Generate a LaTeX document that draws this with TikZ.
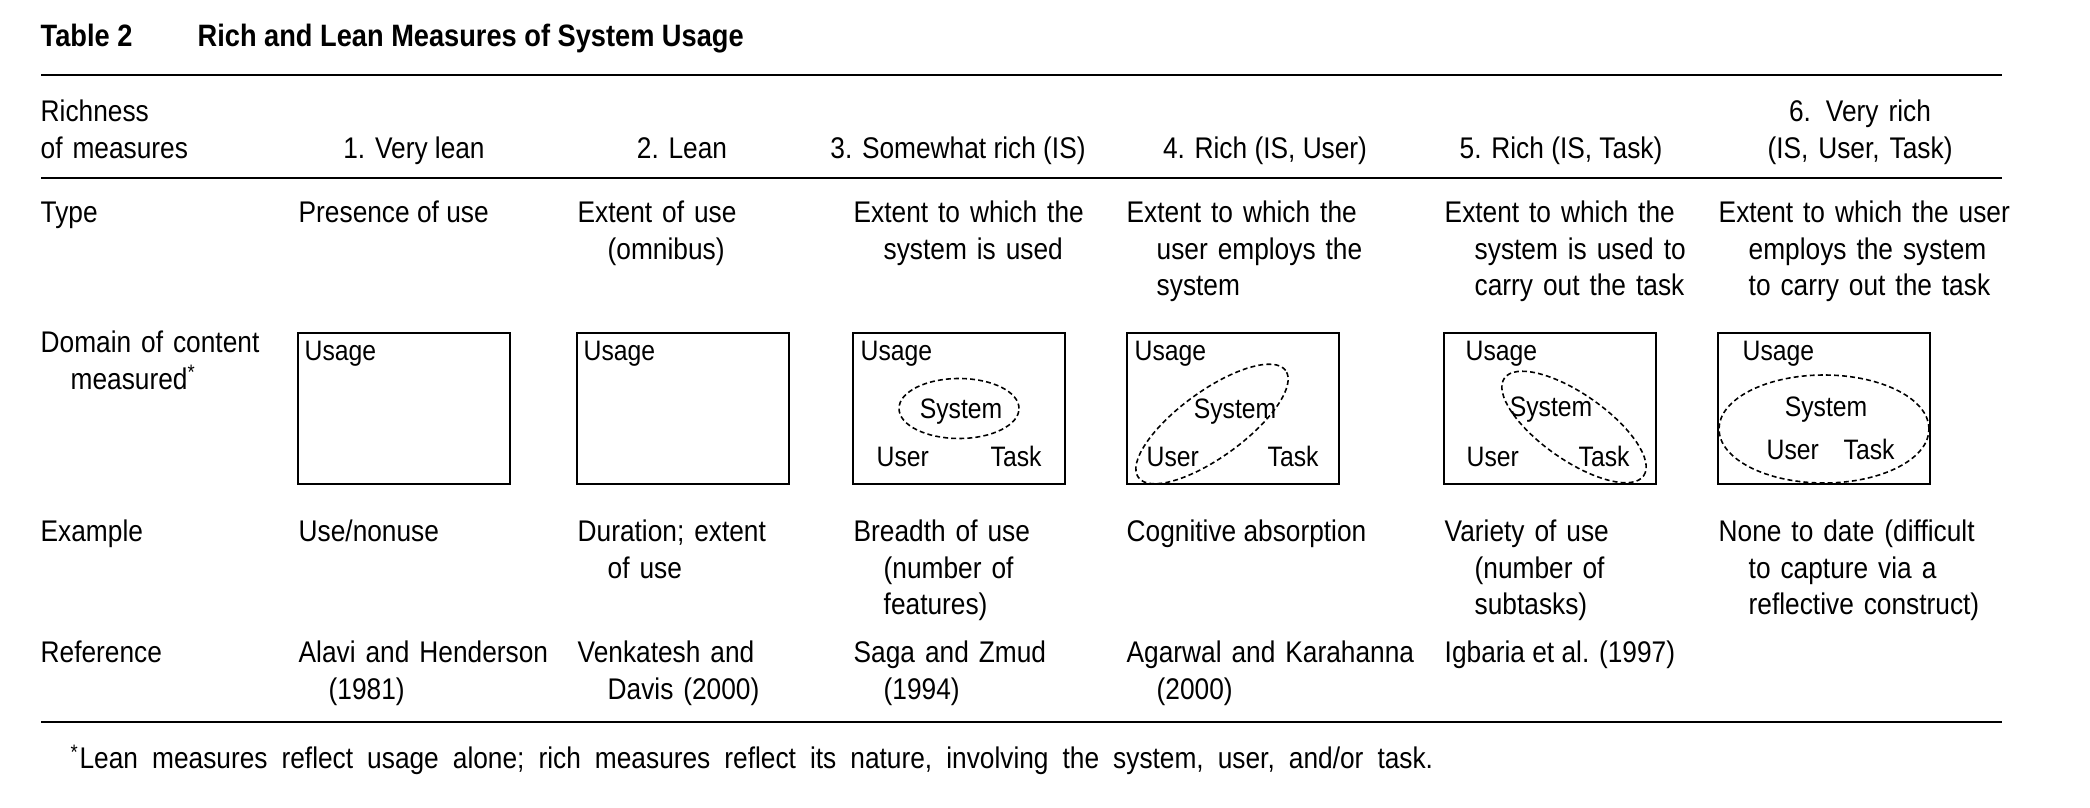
\documentclass[tikz,border=0pt]{standalone}
\usepackage{fontspec}
\setmainfont{Liberation Sans}[FakeStretch=0.88]
\usetikzlibrary{calc}
\newcommand{\hang}{\hspace*{3mm}}

\begin{document}
\begin{tikzpicture}[x=0.1mm,y=-0.1mm,font=\fontsize{8.5}{10.3}\selectfont]

    % `cell' is used for the text of every row, `word' for one-line texts.
    % `domainbox' is the Usage box, `sysline' the dashed ellipse in it.
    % `rule' is used for the three lines across the table.
    \tikzstyle{word} = [anchor=base west,inner sep=0pt]
    \tikzstyle{cell} = [anchor=base west,align=left,inner sep=0pt,text width=2.7cm]
    \tikzstyle{wide} = [cell,text width=3.1cm]
    \tikzstyle{head} = [anchor=base,align=center,inner sep=0pt]
    \tikzstyle{inbox} = [inner sep=0pt,font=\fontsize{8}{10}\selectfont]
    \tikzstyle{domainbox} = [draw,line width=0.6pt,minimum width=2.12cm,minimum height=1.51cm,inner sep=0pt]
    \tikzstyle{sysline} = [line width=0.45pt,dash pattern=on 1.4pt off 0.9pt]
    \tikzstyle{rule} = [line width=0.8pt]
    %
    \useasboundingbox (0,0) rectangle (2090,808);

    % Title.
    \node[word,font=\fontsize{8.8}{10.3}\selectfont\bfseries] (tab) at (40,47) {Table 2};
    \node[word,font=\fontsize{8.8}{10.3}\selectfont\bfseries] (title) at (197,47) {Rich and Lean Measures of System Usage};

    \coordinate (topW) at (41,75);    \coordinate (topE) at (2002,75);
    \coordinate (midW) at (41,178);   \coordinate (midE) at (2002,178);
    \coordinate (botW) at (41,722);   \coordinate (botE) at (2002,722);

    % Header row.
    \node[cell,text width=2.5cm] (rich) at (40,122) {Richness\\of measures};
    \node[head] (h1) at (414,159) {1. Very lean};
    \node[head] (h2) at (682,159) {2. Lean};
    \node[head] (h3) at (958,159) {3. Somewhat rich (IS)};
    \node[head] (h4) at (1265,159) {4. Rich (IS, User)};
    \node[head] (h5) at (1561,159) {5. Rich (IS, Task)};
    \node[head,text width=2.6cm] (h6) at (1860,122) {6. Very rich\\(IS, User, Task)};

    % Type row.
    \node[word] (type) at (40,223) {Type};
    \node[word] (t1) at (298,223) {Presence of use};
    \node[cell] (t2) at (577,223) {Extent of use\\\hang(omnibus)};
    \node[cell] (t3) at (853,223) {Extent to which the\\\hang system is used};
    \node[wide] (t4) at (1126,223) {Extent to which the\\\hang user employs the\\\hang system};
    \node[cell] (t5) at (1444,223) {Extent to which the\\\hang system is used to\\\hang carry out the task};
    \node[wide] (t6) at (1718,223) {Extent to which the user\\\hang employs the system\\\hang to carry out the task};

    % Domain row.
    \node[cell,text width=2.5cm] (dom) at (40,353) {Domain of content\\\hang measured\textsuperscript{*}};
    \node[domainbox] (box1) at (404,408.5) {};
    \node[domainbox] (box2) at (683,408.5) {};
    \node[domainbox] (box3) at (959,408.5) {};
    \node[domainbox] (box4) at (1233,408.5) {};
    \node[domainbox] (box5) at (1550,408.5) {};
    \node[domainbox] (box6) at (1824,408.5) {};
    \node[inbox,anchor=base west] (use1) at ($(box1.north west)+(7,29)$) {Usage};
    \node[inbox,anchor=base west] (use2) at ($(box2.north west)+(7,29)$) {Usage};
    \node[inbox,anchor=base west] (use3) at ($(box3.north west)+(8,29)$) {Usage};
    \node[inbox,anchor=base west] (use4) at ($(box4.north west)+(8,29)$) {Usage};
    \node[inbox,anchor=base west] (use5) at ($(box5.north west)+(22,29)$) {Usage};
    \node[inbox,anchor=base west] (use6) at ($(box6.north west)+(25,29)$) {Usage};

    \node[inbox,anchor=base] (sys3) at (961,419) {System};
    \node[inbox,anchor=base west] (user3) at (876,467) {User};
    \node[inbox,anchor=base west] (task3) at (990,467) {Task};
    \draw[sysline] (box3.center) ellipse [x radius=0.6cm,y radius=0.3cm];

    \node[inbox,anchor=base] (sys4) at (1235,419) {System};
    \node[inbox,anchor=base west] (user4) at (1146,467) {User};
    \node[inbox,anchor=base west] (task4) at (1267,467) {Task};
    \coordinate (mid4) at (1212,424);
    \draw[sysline,rotate around={36:(mid4)}] (mid4) ellipse [x radius=0.91cm,y radius=0.33cm];

    \node[inbox,anchor=base] (sys5) at (1551,417) {System};
    \node[inbox,anchor=base west] (user5) at (1466,467) {User};
    \node[inbox,anchor=base west] (task5) at (1578,467) {Task};
    \coordinate (mid5) at (1574,427);
    \draw[sysline,rotate around={-35:(mid5)}] (mid5) ellipse [x radius=0.85cm,y radius=0.33cm];

    \node[inbox,anchor=base] (sys6) at (1826,417) {System};
    \node[inbox,anchor=base west] (user6) at (1766,460) {User};
    \node[inbox,anchor=base west] (task6) at (1843,460) {Task};
    \coordinate (mid6) at (1824,429);
    \draw[sysline] (mid6) ellipse [x radius=1.05cm,y radius=0.54cm];

    % Example row.
    \node[word] (ex) at (40,542) {Example};
    \node[word] (e1) at (298,542) {Use/nonuse};
    \node[cell] (e2) at (577,542) {Duration; extent\\\hang of use};
    \node[cell] (e3) at (853,542) {Breadth of use\\\hang(number of\\\hang features)};
    \node[word] (e4) at (1126,542) {Cognitive absorption};
    \node[cell] (e5) at (1444,542) {Variety of use\\\hang(number of\\\hang subtasks)};
    \node[wide] (e6) at (1718,542) {None to date (difficult\\\hang to capture via a\\\hang reflective construct)};

    % Reference row.
    \node[word] (ref) at (40,663) {Reference};
    \node[cell] (r1) at (298,663) {Alavi and Henderson\\\hang(1981)};
    \node[cell] (r2) at (577,663) {Venkatesh and\\\hang Davis (2000)};
    \node[cell] (r3) at (853,663) {Saga and Zmud\\\hang(1994)};
    \node[wide] (r4) at (1126,663) {Agarwal and Karahanna\\\hang(2000)};
    \node[word] (r5) at (1444,663) {Igbaria et al. (1997)};

    \node[word] (note) at (70,769) {\spaceskip=4pt\textsuperscript{*}Lean measures reflect usage alone; rich measures reflect its nature, involving the system, user, and/or task.};

    % Draw rules.
    \draw[rule] (topW) -- (topE) (midW) -- (midE) (botW) -- (botE);
    %
\end{tikzpicture}
\end{document}
